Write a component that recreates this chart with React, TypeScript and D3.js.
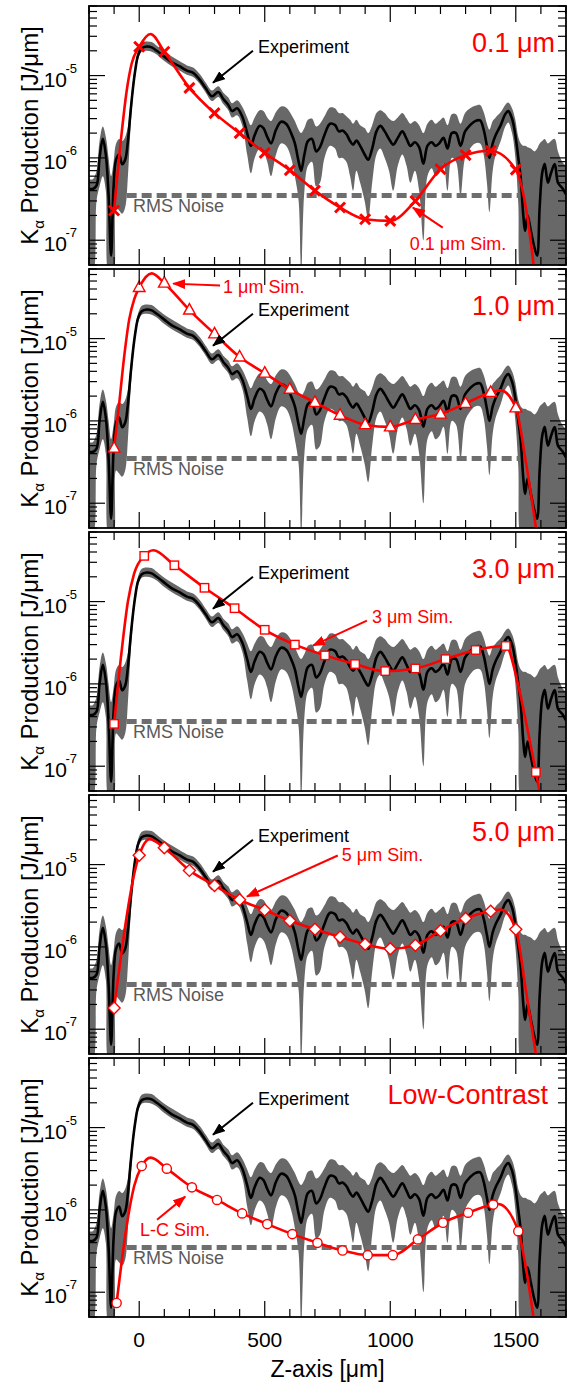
import React from 'react';
import * as d3 from 'd3';

const W = 570;
const H = 1385;
const FONT = '"Liberation Sans", Arial, Helvetica, sans-serif';
const RED = '#ff0000';
const BAND = '#686868';

// plot geometry
const PLOT_L = 89;
const PLOT_R = 566;
const PANEL_TOP0 = 6;
const PANEL_STEP = 263;
const PANEL_H = 259;

// experiment (same in every panel): z [um], value, band low, band high [J/um]
const expZ = [
  -200, -185, -170, -158, -145, -133, -122, -112, -102, -92, -80, -68, -56, -45, -35, -25, -15, -5,
  10, 30, 50, 70, 100, 130, 160, 190, 215, 240, 265, 290, 315, 335, 355, 370, 390, 410, 430, 445,
  460, 480, 495, 510, 525, 545, 565, 585, 605, 620, 635, 645, 658, 672, 688, 705, 720, 738, 760,
  780, 795, 810, 825, 840, 852, 865, 880, 898, 912, 928, 945, 960, 978, 995, 1012, 1030, 1048,
  1065, 1080, 1098, 1115, 1132, 1148, 1165, 1180, 1195, 1212, 1228, 1245, 1262, 1280, 1298, 1318,
  1338, 1358, 1372, 1385, 1395, 1408, 1420, 1440, 1458, 1470, 1485, 1497, 1510, 1520, 1530, 1537,
  1547, 1560, 1575, 1585, 1595, 1605, 1615, 1628, 1640, 1655, 1668, 1685, 1700,
];
const expMid = [
  4.2e-7, 4.2e-7, 4.6e-7, 1.0e-6, 1.7e-6, 1.1e-6, 3.5e-7, 6.5e-8, 4.5e-7, 9.5e-7, 1.1e-6, 8.4e-7, 9.5e-7, 1.6e-6, 3.5e-6, 7.0e-6, 1.2e-5, 1.75e-5,
  2.15e-5, 2.25e-5, 2.2e-5, 2.0e-5, 1.7e-5, 1.45e-5, 1.3e-5, 1.15e-5, 1.08e-5, 9.0e-6, 7.0e-6, 5.6e-6, 6.3e-6, 5.2e-6, 4.4e-6, 3.7e-6, 4.0e-6, 3.2e-6, 2.0e-6, 1.4e-6,
  1.9e-6, 2.45e-6, 2.3e-6, 1.8e-6, 1.5e-6, 2.2e-6, 2.75e-6, 2.6e-6, 2.0e-6, 1.5e-6, 9e-7, 7e-7, 1.1e-6, 1.6e-6, 1.7e-6, 1.2e-6, 1.35e-6, 1.9e-6, 2.6e-6,
  2.5e-6, 2.1e-6, 2.15e-6, 1.95e-6, 1.6e-6, 1.45e-6, 1.62e-6, 1.4e-6, 1.1e-6, 9.5e-7, 1.3e-6, 2.1e-6, 2.45e-6, 2.1e-6, 1.7e-6, 1.45e-6, 1.75e-6, 2.1e-6,
  1.7e-6, 1.4e-6, 1.55e-6, 1.35e-6, 8.5e-7, 1.4e-6, 1.55e-6, 1.4e-6, 1.5e-6, 1.75e-6, 1.3e-6, 2.0e-6, 2.0e-6, 1.4e-6, 2.1e-6, 2.5e-6,
  2.8e-6, 2.85e-6, 2.2e-6, 1.4e-6, 1.0e-6, 1.5e-6, 1.9e-6, 2.5e-6, 3.4e-6, 3.7e-6, 3.0e-6, 2.0e-6, 1.0e-6, 5.5e-7, 2.0e-7, 1.3e-7,
  2.0e-7, 1.3e-7, 8e-8, 6.5e-8, 2.5e-7, 6.5e-7, 8.5e-7, 5e-7, 6.5e-7, 8.4e-7, 5e-7, 4.3e-7, 3.6e-7,
];
const expLo = [
  4e-8, 4e-8, 3e-7, 4.5e-7, 6e-7, 4e-7, 4e-8, 4e-8, 4e-8, 2.5e-7, 2.3e-7, 2.1e-7, 2.5e-7, 6e-7, 2.2e-6, 5.5e-6, 1.05e-5, 1.55e-5,
  1.95e-5, 2.0e-5, 1.95e-5, 1.8e-5, 1.5e-5, 1.3e-5, 1.15e-5, 1.02e-5, 9.6e-6, 8.0e-6, 6.2e-6, 4.9e-6, 5.5e-6, 4.5e-6, 3.8e-6, 3.1e-6, 3.3e-6, 2.5e-6, 1.1e-6, 6.5e-7,
  1.0e-6, 1.3e-6, 1.2e-6, 9e-7, 6e-7, 1.1e-6, 1.5e-6, 1.4e-6, 1.0e-6, 6e-7, 3e-7, 4e-8, 4e-7, 8e-7, 9e-7, 4.5e-7, 5e-7, 1.0e-6, 1.4e-6,
  1.3e-6, 1.0e-6, 1.0e-6, 9e-7, 6e-7, 4e-7, 7e-7, 5e-7, 3e-7, 1.8e-7, 5e-7, 1.1e-6, 1.3e-6, 1.0e-6, 7e-7, 4e-7, 8e-7, 1.1e-6,
  8e-7, 5e-7, 7e-7, 4e-7, 1.0e-7, 6e-7, 7.5e-7, 6e-7, 6.5e-7, 8.5e-7, 4e-7, 1.0e-6, 9e-7, 3.5e-7, 1.0e-6, 1.3e-6,
  1.5e-6, 1.5e-6, 1.1e-6, 5e-7, 2.2e-7, 7e-7, 1.1e-6, 1.6e-6, 2.4e-6, 2.7e-6, 2.0e-6, 1.1e-6, 2.8e-7, 4e-8, 4e-8, 4e-8,
  4e-8, 4e-8, 4e-8, 4e-8, 4e-8, 4e-8, 4e-8, 4e-8, 4e-8, 4e-8, 4e-8, 4e-8, 4e-8,
];
const expHi = [
  5.5e-7, 5.5e-7, 7e-7, 1.6e-6, 2.4e-6, 1.8e-6, 1.0e-6, 6e-7, 9e-7, 1.5e-6, 1.7e-6, 1.6e-6, 1.8e-6, 2.4e-6, 4.5e-6, 8.5e-6, 1.4e-5, 2.0e-5,
  2.5e-5, 2.6e-5, 2.55e-5, 2.3e-5, 1.95e-5, 1.7e-5, 1.5e-5, 1.33e-5, 1.25e-5, 1.05e-5, 8.2e-6, 6.6e-6, 7.4e-6, 6.2e-6, 5.4e-6, 4.6e-6, 5.0e-6, 4.2e-6, 3.1e-6, 2.5e-6,
  3.1e-6, 3.8e-6, 3.7e-6, 3.1e-6, 2.8e-6, 3.6e-6, 4.2e-6, 4.1e-6, 3.4e-6, 2.8e-6, 2.2e-6, 2.0e-6, 2.3e-6, 2.9e-6, 3.0e-6, 2.4e-6, 2.6e-6, 3.2e-6, 4.1e-6,
  4.0e-6, 3.5e-6, 3.5e-6, 3.2e-6, 2.9e-6, 2.6e-6, 2.9e-6, 2.5e-6, 2.3e-6, 2.0e-6, 2.5e-6, 3.5e-6, 3.8e-6, 3.5e-6, 3.0e-6, 2.8e-6, 3.1e-6, 3.5e-6,
  3.0e-6, 2.6e-6, 2.8e-6, 2.5e-6, 2.0e-6, 2.6e-6, 2.9e-6, 2.6e-6, 2.8e-6, 3.1e-6, 2.5e-6, 3.4e-6, 3.4e-6, 2.6e-6, 3.5e-6, 4.0e-6,
  4.3e-6, 4.4e-6, 3.6e-6, 2.6e-6, 2.2e-6, 2.8e-6, 3.1e-6, 3.6e-6, 4.4e-6, 4.7e-6, 4.0e-6, 3.0e-6, 1.8e-6, 1.5e-6, 1.4e-6, 1.4e-6,
  1.35e-6, 1.3e-6, 1.2e-6, 1.3e-6, 1.5e-6, 1.6e-6, 1.7e-6, 1.5e-6, 1.6e-6, 1.7e-6, 1.2e-6, 9e-7, 8e-7,
];

// RMS noise level
const rmsZ = [-50, 1520];
const rmsLevel = 3.5e-7;

// simulations: marker positions / values, plus extra curve points between markers
const simZ100 = [-100, 0, 100, 200, 300, 400, 500, 600, 700, 800, 900, 1000, 1100, 1200, 1300, 1400, 1500];
const sim01Val = [2.3e-7, 2.24e-5, 1.95e-5, 7.1e-6, 3.5e-6, 2.0e-6, 1.15e-6, 7.1e-7, 4.0e-7, 2.5e-7, 1.8e-7, 1.72e-7, 3.0e-7, 7.3e-7, 1.08e-6, 1.22e-6, 7.2e-7];
const sim01ExZ = [-70, -50, -30, 45, 1540, 1575];
const sim01ExV = [2.0e-6, 6.5e-6, 1.4e-5, 3.2e-5, 2.5e-7, 4e-8];

const sim1Val = [4.67e-7, 4.17e-5, 4.71e-5, 2.22e-5, 1.14e-5, 5.97e-6, 3.8e-6, 2.42e-6, 1.68e-6, 1.17e-6, 9.0e-7, 8.45e-7, 1.04e-6, 1.21e-6, 1.63e-6, 2.22e-6, 1.44e-6];
const sim1ExZ = [-80, -60, -40, -20, 50, 1440, 1540, 1585];
const sim1ExV = [1.6e-6, 6e-6, 1.7e-5, 3.0e-5, 6.2e-5, 2.35e-6, 3.2e-7, 4e-8];

const sim3Z = [-100, 20, 140, 260, 380, 500, 620, 740, 860, 980, 1100, 1220, 1340, 1460, 1580];
const sim3Val = [3.27e-7, 3.59e-5, 2.76e-5, 1.47e-5, 8.3e-6, 4.54e-6, 3.0e-6, 2.22e-6, 1.74e-6, 1.43e-6, 1.54e-6, 2.0e-6, 2.58e-6, 2.89e-6, 8.5e-8];
const sim3ExZ = [-70, -45, -20, 56, 1510, 1550, 1600];
const sim3ExV = [2.5e-6, 1.0e-5, 2.2e-5, 4.2e-5, 9.5e-7, 2.5e-7, 4e-8];

const sim5Val = [1.81e-7, 1.3e-5, 1.6e-5, 8.5e-6, 5.58e-6, 3.73e-6, 2.81e-6, 2.08e-6, 1.64e-6, 1.32e-6, 1.08e-6, 9.5e-7, 1.05e-6, 1.57e-6, 2.22e-6, 2.71e-6, 1.64e-6];
const sim5ExZ = [42, 1440, 1540, 1585];
const sim5ExV = [2.04e-5, 2.85e-6, 3.0e-7, 4e-8];

const simLCZ = [-90, 10, 110, 210, 310, 410, 510, 610, 710, 810, 910, 1010, 1110, 1210, 1310, 1410, 1510];
const simLCVal = [7.4e-8, 3.41e-6, 3.17e-6, 1.88e-6, 1.32e-6, 9.06e-7, 6.72e-7, 5.08e-7, 3.98e-7, 3.21e-7, 2.82e-7, 2.82e-7, 4.38e-7, 6.98e-7, 9.24e-7, 1.16e-6, 5.52e-7];
const simLCExZ = [-50, -20, 46, 1430, 1540, 1575];
const simLCExV = [6.4e-7, 1.95e-6, 4.31e-6, 1.18e-6, 2.0e-7, 4e-8];

// axis labels
const xTickLabels = [0, 500, 1000, 1500];
const yLabelDecades = [1e-5, 1e-6, 1e-7];
const yLabelExp = ['-5', '-6', '-7'];

// annotations in data coordinates [z, value]
const panels = [
  { title: '0.1 μm', titleX: 555, marker: 'x', z: simZ100, v: sim01Val, exZ: sim01ExZ, exV: sim01ExV,
    simLabel: '0.1 μm Sim.', simText: [1078, 7.7e-8], arrowFrom: [1209, 1.42e-7], arrowTo: [1090, 2.49e-7] },
  { title: '1.0 μm', titleX: 555, marker: 'tri', z: simZ100, v: sim1Val, exZ: sim1ExZ, exV: sim1ExV,
    simLabel: '1 μm Sim.', simText: [334, 3.62e-5], arrowFrom: [322, 4.4e-5], arrowTo: [135, 4.65e-5] },
  { title: '3.0 μm', titleX: 555, marker: 'sq', z: sim3Z, v: sim3Val, exZ: sim3ExZ, exV: sim3ExV,
    simLabel: '3 μm Sim.', simText: [927, 5.56e-6], arrowFrom: [907, 5.88e-6], arrowTo: [692, 2.92e-6] },
  { title: '5.0 μm', titleX: 555, marker: 'dia', z: simZ100, v: sim5Val, exZ: sim5ExZ, exV: sim5ExV,
    simLabel: '5 μm Sim.', simText: [807, 1.09e-5], arrowFrom: [791, 1.29e-5], arrowTo: [429, 4.08e-6] },
  { title: 'Low-Contrast', titleX: 548, marker: 'circ', z: simLCZ, v: simLCVal, exZ: simLCExZ, exV: simLCExV,
    simLabel: 'L-C Sim.', simText: [3, 4.88e-7], arrowFrom: [71, 7.6e-7], arrowTo: [183, 1.45e-6] },
];
const expText = [473, 1.9e-5];
const expArrowFrom = [453, 2.0e-5];
const expArrowTo = [294, 8.2e-6];
const rmsText = [-25, 2.19e-7];

function Marker({ kind, cx, cy }: { kind: string; cx: number; cy: number }) {
  const t = `translate(${cx},${cy})`;
  if (kind === 'x')
    return <path transform={t} d="M-5,-5L5,5M-5,5L5,-5" stroke={RED} strokeWidth={3} fill="none" />;
  if (kind === 'tri')
    return <path transform={t} d="M0,-6.5L5.8,4L-5.8,4Z" fill="#fff" stroke={RED} strokeWidth={1.4} />;
  if (kind === 'sq')
    return <rect transform={t} x={-4.2} y={-4.2} width={8.4} height={8.4} fill="#fff" stroke={RED} strokeWidth={1.4} />;
  if (kind === 'dia')
    return <path transform={t} d="M0,-6L6,0L0,6L-6,0Z" fill="#fff" stroke={RED} strokeWidth={1.4} />;
  return <circle cx={cx} cy={cy} r={4.6} fill="#fff" stroke={RED} strokeWidth={1.4} />;
}

export default function App() {
  const x = d3.scaleLinear().domain([-200, 1700]).range([PLOT_L, PLOT_R]);
  const xTicks = x.ticks(19);
  const smooth = d3.curveCatmullRom.alpha(0.5);

  return (
    <div style={{ position: 'absolute', left: 0, top: 0 }}>
      <svg width={W} height={H} style={{ display: 'block', background: '#fff' }} fontFamily={FONT}>
        <defs>
          <marker id="ahBlack" markerUnits="userSpaceOnUse" markerWidth={13} markerHeight={10} refX={12} refY={5} orient="auto">
            <path d="M0,0L13,5L0,10Z" fill="#000" />
          </marker>
          <marker id="ahRed" markerUnits="userSpaceOnUse" markerWidth={13} markerHeight={10} refX={12} refY={5} orient="auto">
            <path d="M0,0L13,5L0,10Z" fill={RED} />
          </marker>
          {panels.map((p, i) => (
            <clipPath id={`clip${i}`} key={i}>
              <rect x={PLOT_L} y={PANEL_TOP0 + PANEL_STEP * i} width={PLOT_R - PLOT_L} height={PANEL_H} />
            </clipPath>
          ))}
        </defs>

        {panels.map((p, i) => {
          const top = PANEL_TOP0 + PANEL_STEP * i;
          const bottom = top + PANEL_H;
          const y = d3.scaleLog().domain([5e-8, 7e-5]).range([bottom, top]);
          const yTicks = y.ticks();

          const band = d3.area<number>()
            .x((d) => x(d))
            .y0((d, k) => y(expLo[k]))
            .y1((d, k) => y(expHi[k]))
            .curve(smooth);
          const expLine = d3.line<number>()
            .x((d) => x(d))
            .y((d, k) => y(expMid[k]))
            .curve(smooth);

          const simPts = p.z.map((z, k) => [z, p.v[k]])
            .concat(p.exZ.map((z, k) => [z, p.exV[k]]))
            .sort((a, b) => a[0] - b[0]);
          const simLine = d3.line<number[]>()
            .x((d) => x(d[0]))
            .y((d) => y(d[1]))
            .curve(d3.curveMonotoneX);

          return (
            <g key={i}>
              <g clipPath={`url(#clip${i})`}>
                <path d={band(expZ) || ''} fill={BAND} stroke="none" />
                <line x1={x(rmsZ[0])} x2={x(rmsZ[1])} y1={y(rmsLevel)} y2={y(rmsLevel)}
                  stroke="#6e6e6e" strokeWidth={5} strokeDasharray="10,5" />
                <path d={expLine(expZ) || ''} fill="none" stroke="#000" strokeWidth={2.6} strokeLinejoin="round" />
                <path d={simLine(simPts) || ''} fill="none" stroke={RED} strokeWidth={2.6} strokeLinejoin="round" />
                {p.z.map((z, k) => (
                  <Marker key={k} kind={p.marker} cx={x(z)} cy={y(p.v[k])} />
                ))}
              </g>

              {/* annotations */}
              <text x={p.titleX} y={top + 46} textAnchor="end" fontSize={27} fill={RED}>{p.title}</text>
              <text x={x(expText[0])} y={y(expText[1])} fontSize={18} fill="#000">Experiment</text>
              <line x1={x(expArrowFrom[0])} y1={y(expArrowFrom[1])} x2={x(expArrowTo[0])} y2={y(expArrowTo[1])}
                stroke="#000" strokeWidth={2} markerEnd="url(#ahBlack)" />
              <text x={x(p.simText[0])} y={y(p.simText[1])} fontSize={18} fill={RED}>{p.simLabel}</text>
              <line x1={x(p.arrowFrom[0])} y1={y(p.arrowFrom[1])} x2={x(p.arrowTo[0])} y2={y(p.arrowTo[1])}
                stroke={RED} strokeWidth={2} markerEnd="url(#ahRed)" />
              <text x={x(rmsText[0])} y={y(rmsText[1])} fontSize={18} fill="#5a5a5a">RMS Noise</text>

              {/* frame and ticks */}
              <rect x={PLOT_L} y={top} width={PLOT_R - PLOT_L} height={PANEL_H} fill="none" stroke="#000" strokeWidth={1.8} />
              {xTicks.map((t) => {
                const len = t % 500 === 0 ? 16 : 8;
                return (
                  <g key={`xt${t}`}>
                    <line x1={x(t)} x2={x(t)} y1={top} y2={top + len} stroke="#000" strokeWidth={1.2} />
                    <line x1={x(t)} x2={x(t)} y1={bottom} y2={bottom - len} stroke="#000" strokeWidth={1.2} />
                  </g>
                );
              })}
              {yTicks.map((t, k) => {
                const major = Math.abs(Math.log10(t) - Math.round(Math.log10(t))) < 1e-6;
                const len = major ? 16 : 8;
                return (
                  <g key={`yt${k}`}>
                    <line x1={PLOT_L} x2={PLOT_L + len} y1={y(t)} y2={y(t)} stroke="#000" strokeWidth={1.2} />
                    <line x1={PLOT_R} x2={PLOT_R - len} y1={y(t)} y2={y(t)} stroke="#000" strokeWidth={1.2} />
                  </g>
                );
              })}
              {yLabelDecades.map((d, k) => (
                <g key={`yl${k}`}>
                  <text x={67} y={y(d) + 11} textAnchor="end" fontSize={21} fill="#000">10</text>
                  <text x={77} y={y(d) - 3} textAnchor="end" fontSize={13} fill="#000">{yLabelExp[k]}</text>
                </g>
              ))}
              <text transform={`translate(38,${top + PANEL_H / 2}) rotate(-90)`} textAnchor="middle" fontSize={24} fill="#000">
                <tspan>K</tspan>
                <tspan fontSize={15} dy={6}>α</tspan>
                <tspan dy={-6}> Production [J/μm]</tspan>
              </text>
            </g>
          );
        })}

        {/* bottom x axis labels */}
        {xTickLabels.map((t) => (
          <text key={`xl${t}`} x={x(t)} y={1347} textAnchor="middle" fontSize={21} fill="#000">{t}</text>
        ))}
        <text x={(PLOT_L + PLOT_R) / 2} y={1377} textAnchor="middle" fontSize={23} fill="#000">Z-axis [μm]</text>
      </svg>
    </div>
  );
}
